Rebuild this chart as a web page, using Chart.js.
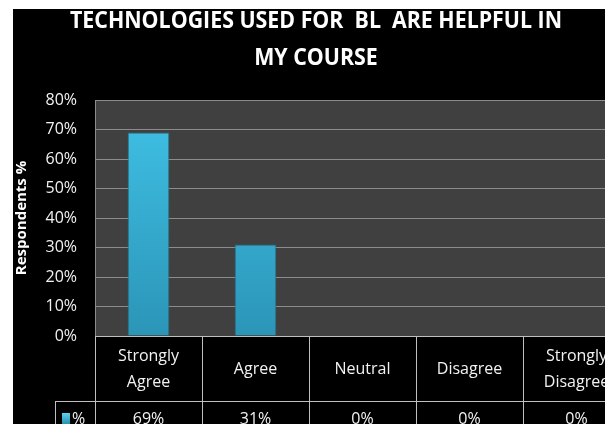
<!DOCTYPE html>
<html>
<head>
<meta charset="utf-8">
<script src="https://cdn.jsdelivr.net/npm/chart.js@4.4.1/dist/chart.umd.min.js"></script>
<style>
  html, body { margin: 0; padding: 0; background: #fff; }
  #wrap { position: relative; width: 605px; height: 424px; overflow: hidden; }
  #box { position: absolute; left: 13px; top: 9px; width: 617px; height: 415px; background: #000; }
</style>
</head>
<body>
<div id="wrap"><div id="box"><canvas id="chart" width="617" height="415"></canvas></div></div>
<script>
// chart data
const categories = [['Strongly', 'Agree'], 'Agree', 'Neutral', 'Disagree', ['Strongly', 'Disagree']];
const values = [69, 31, 0, 0, 0];
const seriesName = '%';
const titleLines = ['TECHNOLOGIES USED FOR  BL  ARE HELPFUL IN', 'MY COURSE'];
const yAxisTitle = 'Respondents %';
const yMax = 80;
const yStep = 10;

const FONT = '"Open Sans", "Noto Sans", sans-serif';

// draw text squeezed to a target width (source font is a narrow one)
function squeezeText(ctx, text, x, y, targetW) {
  const w = ctx.measureText(text).width;
  const s = Math.min(1, targetW / w);
  ctx.save();
  ctx.translate(x, y);
  ctx.scale(s, 1);
  ctx.fillText(text, 0, 0);
  ctx.restore();
}

const decor = {
  id: 'decor',
  beforeDraw(chart) {
    const { ctx, chartArea: a } = chart;
    ctx.save();
    ctx.fillStyle = '#404040';
    ctx.fillRect(a.left, a.top, a.right - a.left, a.bottom - a.top);
    ctx.restore();
  },
  afterDraw(chart) {
    const { ctx, chartArea: a } = chart;
    const xs = chart.scales.x;
    ctx.save();

    // title
    ctx.fillStyle = '#fff';
    ctx.textAlign = 'center';
    ctx.textBaseline = 'alphabetic';
    ctx.font = 'bold 24px ' + FONT;
    const w1 = ctx.measureText(titleLines[0]).width;
    const s = 492 / w1;
    titleLines.forEach((t, i) => {
      ctx.save();
      ctx.translate(303, 19 + i * 37);
      ctx.scale(s, 1);
      ctx.fillText(t, 0, 0);
      ctx.restore();
    });

    // y axis title
    ctx.save();
    ctx.translate(9, 209);
    ctx.rotate(-Math.PI / 2);
    ctx.font = 'bold 15px ' + FONT;
    ctx.textBaseline = 'middle';
    ctx.textAlign = 'center';
    squeezeText(ctx, yAxisTitle, 0, 0, 135);
    ctx.restore();

    // data table
    const colW = (a.right - a.left) / categories.length;
    const top = a.bottom;
    const mid = 392;
    const bottom = 440;
    const legendLeft = 42;
    ctx.strokeStyle = '#bfbfbf';
    ctx.lineWidth = 1;
    ctx.beginPath();
    ctx.moveTo(a.left, top + 0.5); ctx.lineTo(a.right + 20, top + 0.5);
    ctx.moveTo(legendLeft, mid + 0.5); ctx.lineTo(a.right + 20, mid + 0.5);
    ctx.moveTo(legendLeft + 0.5, mid); ctx.lineTo(legendLeft + 0.5, bottom);
    for (let i = 0; i <= categories.length; i++) {
      const x = Math.round(a.left + i * colW) + 0.5;
      ctx.moveTo(x, top); ctx.lineTo(x, bottom);
    }
    ctx.stroke();

    ctx.fillStyle = '#f2f2f2';
    ctx.font = '16px ' + FONT;
    ctx.textAlign = 'center';
    ctx.textBaseline = 'middle';
    categories.forEach((c, i) => {
      const cx = xs.getPixelForValue(i);
      const lines = Array.isArray(c) ? c : [c];
      const cy = (top + mid) / 2 + 1;
      lines.forEach((l, j) => {
        ctx.fillText(l, cx, cy + (j - (lines.length - 1) / 2) * 26);
      });
    });
    ctx.textBaseline = 'alphabetic';
    values.forEach((v, i) => {
      ctx.fillText(v + '%', xs.getPixelForValue(i), 415);
    });

    // legend key
    const g = ctx.createLinearGradient(0, 404, 0, 414);
    g.addColorStop(0, '#5fd2f0');
    g.addColorStop(1, '#2b95b6');
    ctx.fillStyle = g;
    ctx.fillRect(49, 404, 8, 11);
    ctx.fillStyle = '#f2f2f2';
    ctx.textAlign = 'left';
    ctx.fillText(seriesName, 59, 415);

    ctx.restore();
  }
};

new Chart(document.getElementById('chart'), {
  type: 'bar',
  data: {
    labels: categories,
    datasets: [{
      label: seriesName,
      data: values,
      backgroundColor(ctx) {
        const a = ctx.chart.chartArea;
        if (!a) return '#36b2d8';
        const g = ctx.chart.ctx.createLinearGradient(0, a.top, 0, a.bottom);
        g.addColorStop(0, '#40c2e7');
        g.addColorStop(1, '#2b95b7');
        return g;
      },
      borderColor: '#20708a',
      borderWidth: 1,
      barPercentage: 0.39,
      categoryPercentage: 1
    }]
  },
  options: {
    responsive: false,
    animation: false,
    layout: { padding: { top: 91, bottom: 88, left: 0, right: 0 } },
    plugins: {
      legend: { display: false },
      tooltip: { enabled: false }
    },
    scales: {
      x: {
        display: false
      },
      y: {
        min: 0,
        max: yMax,
        afterFit(scale) { scale.width = 82; },
        grid: { color: '#8c8c8c', drawTicks: false },
        border: { display: true, color: '#8c8c8c' },
        ticks: {
          stepSize: yStep,
          padding: 18,
          color: '#f2f2f2',
          font: { size: 16, family: FONT },
          callback: v => v + '%'
        }
      }
    }
  },
  plugins: [decor]
});
</script>
</body>
</html>
